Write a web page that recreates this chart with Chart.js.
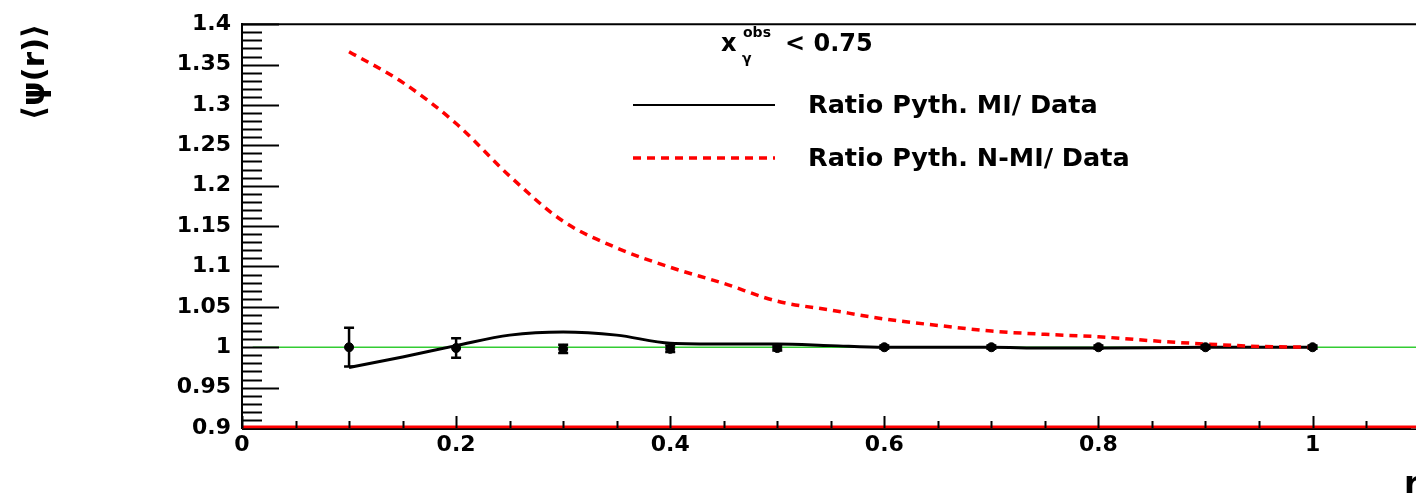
<!DOCTYPE html>
<html lang="en">
<head>
<meta charset="UTF-8">
<title>Ratio Pyth. / Data</title>
<script src="https://cdn.jsdelivr.net/npm/chart.js@4.4.0/dist/chart.umd.min.js"></script>
<style>
  html, body { margin: 0; padding: 0; background: #fff; overflow: hidden; }
  canvas { display: block; }
</style>
</head>
<body>
<canvas id="shapeChart" width="1416" height="493"></canvas>
<script>
// data points (ratio data / data) with stat. errors
const rBins = [0.1, 0.2, 0.3, 0.4, 0.5, 0.6, 0.7, 0.8, 0.9, 1.0];
const dataRatio = [1.000, 0.999, 0.998, 0.998, 0.999, 1.000, 1.000, 1.000, 1.000, 1.000];
const dataErr = [0.024, 0.012, 0.005, 0.004, 0.003, 0.002, 0.002, 0.002, 0.002, 0.002];

// Pythia with multiple interactions
const miR = [0.1, 0.15, 0.2, 0.25, 0.3, 0.35, 0.4, 0.45, 0.5, 0.55, 0.6, 0.7, 0.75, 0.8, 0.9, 1.0];
const miRatio = [0.975, 0.988, 1.002, 1.015, 1.019, 1.015, 1.005, 1.004, 1.004, 1.002, 1.000, 1.000, 0.999, 0.999, 1.000, 1.000];

// Pythia without multiple interactions
const nmiR = [0.1, 0.15, 0.2, 0.25, 0.3, 0.35, 0.4, 0.45, 0.5, 0.55, 0.6, 0.65, 0.7, 0.75, 0.8, 0.85, 0.9, 0.95, 1.0];
const nmiRatio = [1.366, 1.328, 1.277, 1.212, 1.156, 1.123, 1.099, 1.079, 1.057, 1.046, 1.035, 1.027, 1.020, 1.016, 1.013, 1.008, 1.004, 1.001, 1.000];

// unity line
const unityR = [0.01, 1.1];
const unityRatio = [1, 1];

// axis labels
const xTickValues = [0, 0.2, 0.4, 0.6, 0.8, 1];
const yTickValues = [0.9, 0.95, 1, 1.05, 1.1, 1.15, 1.2, 1.25, 1.3, 1.35, 1.4];

const FONT = 'DejaVu Sans';
const toXY = (xs, ys) => xs.map((x, i) => ({ x: x, y: ys[i] }));
const fmt = v => String(Number(v.toFixed(2)));

// error bars on the data points
const errorBars = {
    id: 'errorBars',
    afterDatasetsDraw(chart) {
        const { ctx, scales: { x, y } } = chart;
        ctx.save();
        ctx.strokeStyle = '#000';
        ctx.lineWidth = 2.5;
        rBins.forEach((r, i) => {
            const px = x.getPixelForValue(r);
            const top = y.getPixelForValue(dataRatio[i] + dataErr[i]);
            const bot = y.getPixelForValue(dataRatio[i] - dataErr[i]);
            ctx.beginPath();
            ctx.moveTo(px, top); ctx.lineTo(px, bot);
            ctx.moveTo(px - 5, top); ctx.lineTo(px + 5, top);
            ctx.moveTo(px - 5, bot); ctx.lineTo(px + 5, bot);
            ctx.stroke();
        });
        ctx.restore();
    }
};

// frame, inner ticks, titles and legend
const decorations = {
    id: 'decorations',
    afterDraw(chart) {
        const { ctx, chartArea: area, scales: { x, y } } = chart;
        const right = chart.width; // frame runs off the canvas edge
        ctx.save();

        // top frame
        ctx.strokeStyle = '#000';
        ctx.lineWidth = 2;
        ctx.beginPath();
        ctx.moveTo(area.left, area.top); ctx.lineTo(right, area.top);
        ctx.stroke();

        // y ticks pointing into the plot
        ctx.lineWidth = 2;
        for (let k = 0; k <= 50; k++) {
            const v = 0.9 + k * 0.01;
            const py = Math.round(y.getPixelForValue(v)) + 0.5;
            const len = k % 5 === 0 ? 37 : 20;
            ctx.beginPath();
            ctx.moveTo(area.left, py); ctx.lineTo(area.left + len, py);
            ctx.stroke();
        }

        // red baseline sitting on the x axis
        const by = y.getPixelForValue(0.9);
        ctx.strokeStyle = '#ff0000';
        ctx.lineWidth = 3;
        ctx.beginPath();
        ctx.moveTo(area.left, by - 1); ctx.lineTo(right, by - 1);
        ctx.stroke();
        ctx.strokeStyle = '#000';
        ctx.lineWidth = 1.5;
        ctx.beginPath();
        ctx.moveTo(area.left, by + 1.2); ctx.lineTo(right, by + 1.2);
        ctx.stroke();

        // x ticks pointing into the plot
        ctx.lineWidth = 2;
        for (let k = 0; k <= 22; k++) {
            const v = k * 0.05;
            const px = Math.round(x.getPixelForValue(v)) + 0.5;
            if (px > right) break;
            const len = k % 4 === 0 ? 12 : 7;
            ctx.beginPath();
            ctx.moveTo(px, by); ctx.lineTo(px, by - len);
            ctx.stroke();
        }

        ctx.fillStyle = '#000';

        // y title
        ctx.save();
        ctx.translate(36, 72);
        ctx.rotate(-Math.PI / 2);
        ctx.font = `bold 31px ${FONT}`;
        ctx.textAlign = 'center';
        ctx.textBaseline = 'middle';
        ctx.fillText('\u27E8\u03C8(r)\u27E9', 0, 0);
        ctx.restore();

        // x title
        ctx.font = `bold 32px ${FONT}`;
        ctx.textAlign = 'left';
        ctx.textBaseline = 'alphabetic';
        ctx.fillText('r', 1404, 494);

        // header: x_gamma^obs < 0.75
        ctx.font = `bold 24px ${FONT}`;
        ctx.fillText('x', 721, 51);
        ctx.font = `bold 14px ${FONT}`;
        ctx.fillText('obs', 743, 37);
        ctx.fillText('\u03B3', 742, 63);
        ctx.font = `bold 24px ${FONT}`;
        ctx.fillText('< 0.75', 785, 51);

        // legend
        ctx.lineWidth = 2;
        ctx.strokeStyle = '#000';
        ctx.beginPath();
        ctx.moveTo(633, 105); ctx.lineTo(775, 105);
        ctx.stroke();
        ctx.strokeStyle = '#ff0000';
        ctx.lineWidth = 3.5;
        ctx.setLineDash([8, 6]);
        ctx.beginPath();
        ctx.moveTo(633, 158); ctx.lineTo(775, 158);
        ctx.stroke();
        ctx.setLineDash([]);

        ctx.font = `bold 25.5px ${FONT}`;
        ctx.textBaseline = 'middle';
        ctx.fillText('Ratio Pyth. MI/ Data', 808, 106);
        ctx.fillText('Ratio Pyth. N-MI/ Data', 808, 159);

        ctx.restore();
    }
};

const ctx = document.getElementById('shapeChart').getContext('2d');
new Chart(ctx, {
    type: 'scatter',
    data: {
        datasets: [
            {
                label: 'Data',
                data: toXY(rBins, dataRatio),
                showLine: false,
                pointRadius: 4.5,
                pointBackgroundColor: '#000',
                pointBorderColor: '#000',
                order: 0
            },
            {
                label: 'Ratio Pyth. MI/ Data',
                data: toXY(miR, miRatio),
                showLine: true,
                borderColor: '#000',
                borderWidth: 3,
                pointRadius: 0,
                cubicInterpolationMode: 'monotone',
                order: 2
            },
            {
                label: 'Ratio Pyth. N-MI/ Data',
                data: toXY(nmiR, nmiRatio),
                showLine: true,
                borderColor: '#ff0000',
                borderWidth: 3.5,
                borderDash: [8, 6],
                pointRadius: 0,
                cubicInterpolationMode: 'monotone',
                order: 1
            },
            {
                label: 'unity',
                data: toXY(unityR, unityRatio),
                showLine: true,
                borderColor: '#33cc33',
                borderWidth: 1.5,
                pointRadius: 0,
                clip: false,
                order: 4
            }
        ]
    },
    options: {
        responsive: false,
        animation: false,
        layout: { padding: { left: 0, top: 22, right: 0, bottom: 0 } },
        plugins: {
            legend: { display: false },
            tooltip: { enabled: false }
        },
        scales: {
            x: {
                type: 'linear',
                min: 0,
                max: 1.0915,
                afterFit(scale) {
                    scale.height = 65;
                    scale.paddingLeft = 0;
                    scale.paddingRight = 0;
                },
                afterBuildTicks(scale) { scale.ticks = xTickValues.map(v => ({ value: v })); },
                grid: { display: false, drawTicks: false },
                border: { display: true, color: '#000', width: 2 },
                ticks: {
                    autoSkip: false,
                    maxRotation: 0,
                    padding: 4,
                    color: '#000',
                    font: { family: FONT, size: 22, weight: 'bold' },
                    callback: v => fmt(v)
                }
            },
            y: {
                type: 'linear',
                min: 0.9,
                max: 1.4,
                afterFit(scale) { scale.width = 242; },
                afterBuildTicks(scale) { scale.ticks = yTickValues.map(v => ({ value: v })); },
                grid: { display: false, drawTicks: false },
                border: { display: true, color: '#000', width: 2 },
                ticks: {
                    autoSkip: false,
                    padding: 11,
                    color: '#000',
                    font: { family: FONT, size: 22, weight: 'bold' },
                    callback: v => fmt(v)
                }
            }
        }
    },
    plugins: [errorBars, decorations]
});
</script>
</body>
</html>
